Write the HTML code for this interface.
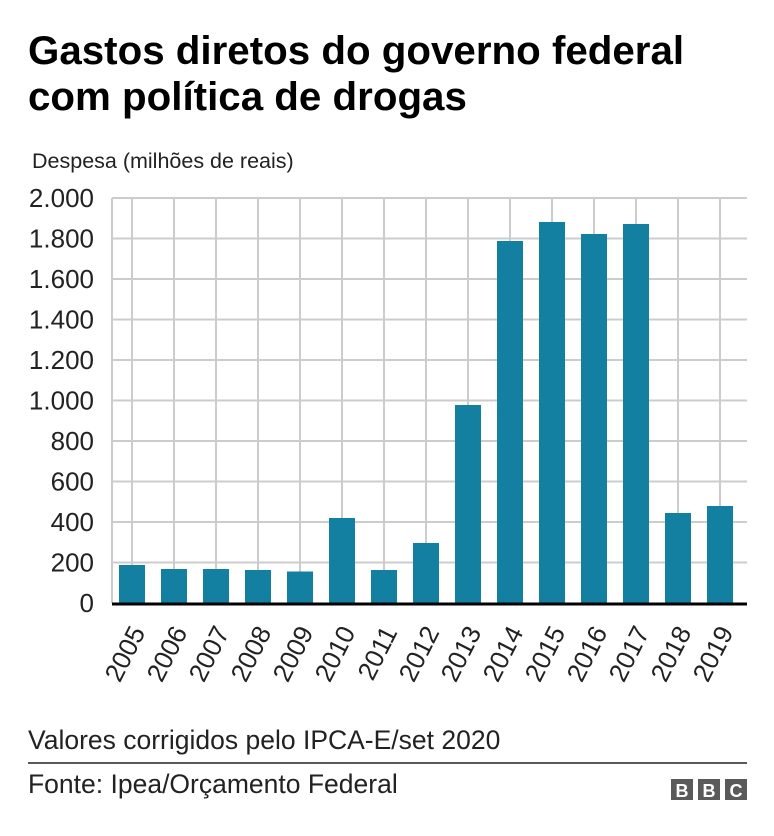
<!DOCTYPE html>
<html><head><meta charset="utf-8"><style>
html,body{margin:0;padding:0;background:#fff;}
svg{display:block;font-family:"Liberation Sans",Arial,sans-serif;}
</style></head><body>
<svg width="774" height="836" viewBox="0 0 774 836" xmlns="http://www.w3.org/2000/svg">
<text x="28" y="64" font-size="40.3" font-weight="bold" fill="#000">Gastos diretos do governo federal</text>
<text x="28" y="110" font-size="40.3" font-weight="bold" fill="#000">com política de drogas</text>
<text x="32" y="168" font-size="21.5" fill="#222">Despesa (milhões de reais)</text>
<g stroke="#cccccc" stroke-width="2">
<line x1="112" y1="198" x2="747" y2="198"/><line x1="112" y1="238.5" x2="747" y2="238.5"/><line x1="112" y1="279" x2="747" y2="279"/><line x1="112" y1="319.5" x2="747" y2="319.5"/><line x1="112" y1="360" x2="747" y2="360"/><line x1="112" y1="400.5" x2="747" y2="400.5"/><line x1="112" y1="441" x2="747" y2="441"/><line x1="112" y1="481.5" x2="747" y2="481.5"/><line x1="112" y1="522" x2="747" y2="522"/><line x1="112" y1="562.5" x2="747" y2="562.5"/>
<line x1="112" y1="198" x2="112" y2="603"/>
<line x1="132" y1="198" x2="132" y2="603"/><line x1="174" y1="198" x2="174" y2="603"/><line x1="216" y1="198" x2="216" y2="603"/><line x1="258" y1="198" x2="258" y2="603"/><line x1="300" y1="198" x2="300" y2="603"/><line x1="342" y1="198" x2="342" y2="603"/><line x1="384" y1="198" x2="384" y2="603"/><line x1="426" y1="198" x2="426" y2="603"/><line x1="468" y1="198" x2="468" y2="603"/><line x1="510" y1="198" x2="510" y2="603"/><line x1="552" y1="198" x2="552" y2="603"/><line x1="594" y1="198" x2="594" y2="603"/><line x1="636" y1="198" x2="636" y2="603"/><line x1="678" y1="198" x2="678" y2="603"/><line x1="720" y1="198" x2="720" y2="603"/>
</g>
<g font-size="26" fill="#222" text-anchor="end">
<text x="94" y="207">2.000</text><text x="94" y="247.5">1.800</text><text x="94" y="288">1.600</text><text x="94" y="328.5">1.400</text><text x="94" y="369">1.200</text><text x="94" y="409.5">1.000</text><text x="94" y="450">800</text><text x="94" y="490.5">600</text><text x="94" y="531">400</text><text x="94" y="571.5">200</text><text x="94" y="612">0</text>
</g>
<g fill="#1380A1">
<rect x="119" y="565" width="26" height="39"/>
<rect x="161" y="569" width="26" height="35"/>
<rect x="203" y="569" width="26" height="35"/>
<rect x="245" y="570" width="26" height="34"/>
<rect x="287" y="571.5" width="26" height="32.5"/>
<rect x="329" y="518" width="26" height="86"/>
<rect x="371" y="570" width="26" height="34"/>
<rect x="413" y="543" width="26" height="61"/>
<rect x="455" y="405" width="26" height="199"/>
<rect x="497" y="241" width="26" height="363"/>
<rect x="539" y="222" width="26" height="382"/>
<rect x="581" y="234" width="26" height="370"/>
<rect x="623" y="224" width="26" height="380"/>
<rect x="665" y="513" width="26" height="91"/>
<rect x="707" y="506" width="26" height="98"/>
</g>
<line x1="112" y1="604" x2="747" y2="604" stroke="#000" stroke-width="3"/>
<g font-size="26" fill="#222" text-anchor="end">
<text transform="translate(146,632) rotate(-63)">2005</text>
<text transform="translate(188,632) rotate(-63)">2006</text>
<text transform="translate(230,632) rotate(-63)">2007</text>
<text transform="translate(272,632) rotate(-63)">2008</text>
<text transform="translate(314,632) rotate(-63)">2009</text>
<text transform="translate(356,632) rotate(-63)">2010</text>
<text transform="translate(398,632) rotate(-63)">2011</text>
<text transform="translate(440,632) rotate(-63)">2012</text>
<text transform="translate(482,632) rotate(-63)">2013</text>
<text transform="translate(524,632) rotate(-63)">2014</text>
<text transform="translate(566,632) rotate(-63)">2015</text>
<text transform="translate(608,632) rotate(-63)">2016</text>
<text transform="translate(650,632) rotate(-63)">2017</text>
<text transform="translate(692,632) rotate(-63)">2018</text>
<text transform="translate(734,632) rotate(-63)">2019</text>
</g>
<text x="28" y="749" font-size="26.5" fill="#222">Valores corrigidos pelo IPCA-E/set 2020</text>
<line x1="28" y1="763" x2="747" y2="763" stroke="#222" stroke-width="1.5"/>
<text x="28" y="793" font-size="26.5" fill="#222">Fonte: Ipea/Orçamento Federal</text>
<g>
<rect x="671" y="779" width="22" height="21" fill="#5a5a5a"/>
<rect x="698" y="779" width="22" height="21" fill="#5a5a5a"/>
<rect x="725" y="779" width="22" height="21" fill="#5a5a5a"/>
<g font-size="18" font-weight="bold" fill="#fff" text-anchor="middle">
<text x="682" y="797">B</text><text x="709" y="797">B</text><text x="736" y="797">C</text>
</g>
</g>
</svg>
</body></html>
